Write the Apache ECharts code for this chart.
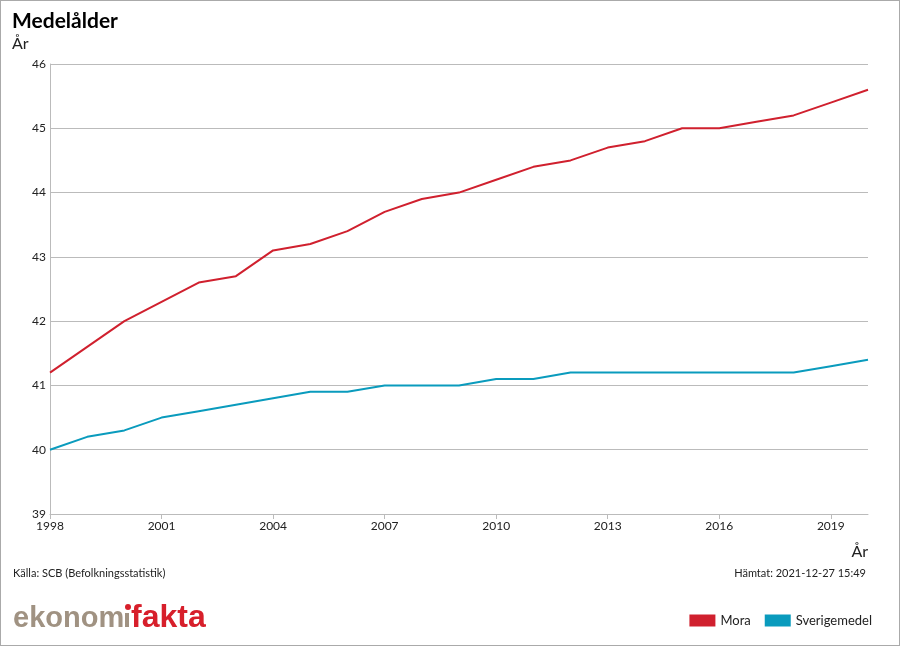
<!DOCTYPE html>
<html><head><meta charset="utf-8">
<script src="https://cdn.jsdelivr.net/npm/echarts@6/dist/echarts.min.js"></script>
<style>
html,body{margin:0;padding:0;background:#fff;}
#c{width:898px;height:644px;border:1px solid #aaa;}
</style></head>
<body><div id="c"></div>
<script>
const years = [1998,1999,2000,2001,2002,2003,2004,2005,2006,2007,2008,2009,2010,2011,2012,2013,2014,2015,2016,2017,2018,2019,2020];
const mora = [41.2,41.6,42.0,42.3,42.6,42.7,43.1,43.2,43.4,43.7,43.9,44.0,44.2,44.4,44.5,44.7,44.8,45.0,45.0,45.1,45.2,45.4,45.6];
const sverige = [40.0,40.2,40.3,40.5,40.6,40.7,40.8,40.9,40.9,41.0,41.0,41.0,41.1,41.1,41.2,41.2,41.2,41.2,41.2,41.2,41.2,41.3,41.4];
const seriesNames = ['Mora','Sverigemedel'];
const colors = ['#d0202e','#0a9bbd'];
const FONT = 'Lato, "Noto Sans", sans-serif';
const LOGO = '"Liberation Sans", Arial, sans-serif';

const chart = echarts.init(document.getElementById('c'));
chart.setOption({
  animation:false,
  textStyle:{fontFamily:FONT},
  title:{text:'Medelålder',left:6,top:5,textStyle:{fontSize:21,fontWeight:'bold',color:'#000',fontFamily:FONT}},
  grid:{left:49,right:31,top:63,bottom:131},
  legend:{
    data:seriesNames,right:22,bottom:13,itemWidth:26,itemHeight:12,itemGap:14,
    icon:'rect',textStyle:{fontSize:13,color:'#222',fontFamily:FONT},
    itemStyle:{borderWidth:0}
  },
  xAxis:{
    type:'value',min:1998,max:2020,interval:3,
    name:'År',nameLocation:'end',nameGap:0,
    nameTextStyle:{fontSize:16,color:'#222',align:'right',verticalAlign:'top',padding:[30,0,0,0]},
    axisLine:{show:true,lineStyle:{color:'#bbb'}},
    axisTick:{show:true,length:5,lineStyle:{color:'#bbb'}},
    splitLine:{show:false},
    axisLabel:{color:'#222',fontSize:12,margin:6,showMaxLabel:false,formatter:v=>String(v)}
  },
  yAxis:{
    type:'value',min:39,max:46,interval:1,
    name:'År',nameLocation:'end',nameGap:12,
    nameTextStyle:{fontSize:16,color:'#222',align:'left',padding:[0,0,0,-38]},
    axisLine:{show:true,lineStyle:{color:'#bbb'}},
    axisTick:{show:false},
    splitLine:{lineStyle:{color:'#bbb'}},
    axisLabel:{color:'#222',fontSize:12,margin:4}
  },
  series:[
    {name:seriesNames[0],type:'line',data:years.map((y,i)=>[y,mora[i]]),symbol:'none',lineStyle:{width:2,color:colors[0]},itemStyle:{color:colors[0]}},
    {name:seriesNames[1],type:'line',data:years.map((y,i)=>[y,sverige[i]]),symbol:'none',lineStyle:{width:2,color:colors[1]},itemStyle:{color:colors[1]}}
  ],
  graphic:[
    {type:'text',left:12,top:567,style:{text:'Källa: SCB (Befolkningsstatistik)',fontSize:11,fill:'#222',fontFamily:FONT}},
    {type:'text',right:33,top:567,style:{text:'Hämtat: 2021-12-27 15:49',fontSize:11,fill:'#222',fontFamily:FONT}},
    {type:'text',left:12,top:603,style:{text:'ekonom',fontSize:29,fontWeight:'bold',fill:'#a09282',fontFamily:LOGO}},
    {type:'rect',shape:{x:124,y:612,width:4,height:14},style:{fill:'#a09282'}},
    {type:'circle',shape:{cx:127,cy:606,r:3},style:{fill:'#d71f2b'}},
    {type:'text',left:130,top:601,style:{text:'fakta',fontSize:32,fontWeight:'bold',fill:'#d71f2b',fontFamily:LOGO}}
  ]
});
</script></body></html>
